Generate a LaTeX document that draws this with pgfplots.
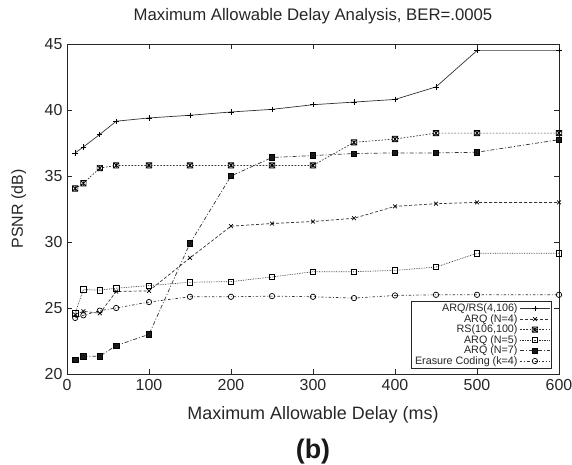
\documentclass[border=0pt]{standalone}
\usepackage{fontspec}
\setmainfont{Liberation Sans}
\usepackage{pgfplots}
\pgfplotsset{compat=1.18}
\pgfdeclareplotmark{boxx}{%
  \pgfpathrectangle{\pgfqpoint{-\pgfplotmarksize}{-\pgfplotmarksize}}{\pgfqpoint{2\pgfplotmarksize}{2\pgfplotmarksize}}%
  \pgfpathmoveto{\pgfqpoint{-\pgfplotmarksize}{-\pgfplotmarksize}}%
  \pgfpathlineto{\pgfqpoint{\pgfplotmarksize}{\pgfplotmarksize}}%
  \pgfpathmoveto{\pgfqpoint{-\pgfplotmarksize}{\pgfplotmarksize}}%
  \pgfpathlineto{\pgfqpoint{\pgfplotmarksize}{-\pgfplotmarksize}}%
  \pgfpathmoveto{\pgfqpoint{0pt}{-\pgfplotmarksize}}%
  \pgfpathlineto{\pgfqpoint{0pt}{\pgfplotmarksize}}%
  \pgfusepathqstroke}
\definecolor{ln}{RGB}{50,50,50}
\begin{document}
\begin{tikzpicture}
\begin{axis}[
  name=ax,
  scale only axis,
  width=492bp, height=330bp,
  xmin=0, xmax=600, ymin=20, ymax=45,
  xtick={0,100,...,600}, ytick={20,25,...,45},
  tick align=inside,
  major tick length=5bp,
  /pgf/number format/assume math mode=true,
  ticklabel style={font=\fontsize{16}{18}\selectfont, text=black!85},
  xticklabel style={yshift=-2bp},
  yticklabel style={xshift=-1bp},
  axis line style={black!85, line width=0.8pt},
  every tick/.style={black!85, line width=0.6pt},
  title={Maximum Allowable Delay Analysis, BER=.0005},
  title style={font=\fontsize{16.8}{18}\selectfont, text=black!85, at={(axis description cs:0.5,1)}, anchor=base, yshift=18bp},
  xlabel={Maximum Allowable Delay (ms)},
  xlabel style={font=\fontsize{18}{20}\selectfont, text=black!85, at={(axis description cs:0.5,0)}, anchor=base, yshift=-45bp},
  ylabel={PSNR (dB)},
  ylabel style={font=\fontsize{16}{18}\selectfont, text=black!85, at={(axis description cs:-0.098,0.5)}, anchor=center},
  legend plot pos=right,
  legend cell align=right,
  legend style={at={(axis description cs:0.986,0.015)}, anchor=south east,
    font=\fontsize{10.8}{11}\selectfont, text=black!85, draw=black!85, line width=0.7pt,
    inner sep=1.5bp, row sep=-1.8bp,
    nodes={inner ysep=1.5bp}},
  legend image code/.code={\draw[mark repeat=2,mark phase=2,#1] plot coordinates {(0bp,0bp) (15bp,0bp) (30bp,0bp)};},
  every axis plot/.append style={line width=0.7pt, mark size=2.7bp},
]
\addplot[ln, solid, mark=+, mark options={solid, black}] coordinates {
(10,36.75) (20,37.2) (40,38.15) (60,39.15) (100,39.4) (150,39.6) (200,39.85) (250,40.05) (300,40.4) (350,40.6) (400,40.8) (450,41.75) (500,44.5) (600,44.5)};
\addlegendentry{ARQ/RS(4,106)}
\addplot[ln, dash pattern=on 3bp off 2bp, mark=x, mark options={solid, black}] coordinates {
(10,24.5) (20,24.75) (40,24.6) (60,26.25) (100,26.3) (150,28.8) (200,31.2) (250,31.4) (300,31.55) (350,31.8) (400,32.7) (450,32.9) (500,33.0) (600,33.0)};
\addlegendentry{ARQ (N=4)}
\addplot[ln, dash pattern=on 1.6bp off 1.6bp, mark=boxx, mark options={solid, black}] coordinates {
(10,34.05) (20,34.45) (40,35.6) (60,35.8) (100,35.8) (150,35.8) (200,35.8) (250,35.8) (300,35.8) (350,37.55) (400,37.8) (450,38.25) (500,38.25) (600,38.25)};
\addlegendentry{RS(106,100)}
\addplot[ln, dash pattern=on 0.7bp off 1bp, mark=square, mark options={solid, black}] coordinates {
(10,24.6) (20,26.4) (40,26.35) (60,26.5) (100,26.7) (150,26.95) (200,27.0) (250,27.35) (300,27.75) (350,27.75) (400,27.85) (450,28.1) (500,29.15) (600,29.15)};
\addlegendentry{ARQ (N=5)}
\addplot[ln, dash pattern=on 4bp off 2bp on 1bp off 2bp, mark=square*, mark options={solid, black, fill=black!90}] coordinates {
(10,21.05) (20,21.35) (40,21.35) (60,22.15) (100,23.0) (150,29.9) (200,35.0) (250,36.4) (300,36.55) (350,36.7) (400,36.75) (450,36.75) (500,36.8) (600,37.75)};
\addlegendentry{ARQ (N=7)}
\addplot[ln, dash pattern=on 2.5bp off 2bp on 0.8bp off 2bp, mark=o, mark options={solid, black}] coordinates {
(10,24.25) (20,24.45) (40,24.8) (60,25.0) (100,25.45) (150,25.85) (200,25.85) (250,25.9) (300,25.85) (350,25.75) (400,25.95) (450,26.0) (500,26.0) (600,26.0)};
\addlegendentry{Erasure Coding (k=4)}
\end{axis}
\node[anchor=base, font=\bfseries\fontsize{27}{30}\selectfont, text=black!90] at ([yshift=-84bp]ax.south) {(b)};
\pgfresetboundingbox
\path ([shift={(-67bp,-91bp)}]ax.south west) rectangle ([shift={(13bp,44bp)}]ax.north east);
\end{tikzpicture}
\end{document}
